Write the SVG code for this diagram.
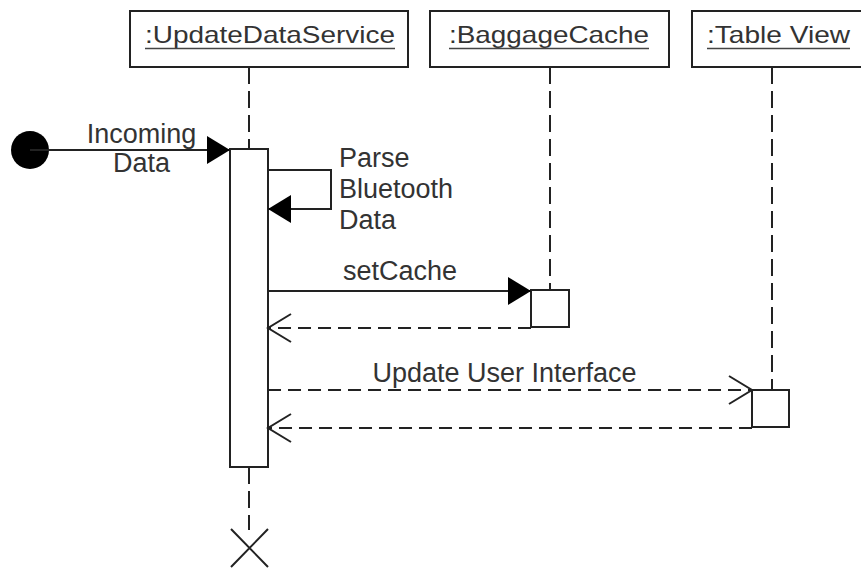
<svg xmlns="http://www.w3.org/2000/svg" width="861" height="571" viewBox="0 0 861 571">
<defs>
<style>
.box{fill:#fff;stroke:#222;stroke-width:2}
.life{stroke:#222;stroke-width:2;stroke-dasharray:17 7;fill:none}
.msg{stroke:#222;stroke-width:2;fill:none}
.ret{stroke:#222;stroke-width:2;fill:none;stroke-dasharray:13 7}
.hd{font-family:"Liberation Sans",Arial,sans-serif;font-size:24px;fill:#333;text-anchor:middle}
.ul{stroke:#444;stroke-width:1.6}
.lbl{font-family:"Liberation Sans",Arial,sans-serif;font-size:27px;fill:#333}
</style>
<marker id="filled" markerUnits="userSpaceOnUse" markerWidth="24" markerHeight="30" refX="23" refY="14" orient="auto" viewBox="0 0 24 30">
<path d="M0,0 L23,14 L0,28 Z" fill="#000" stroke="none"/>
</marker>
<marker id="open" markerUnits="userSpaceOnUse" markerWidth="26" markerHeight="32" refX="24" refY="15" orient="auto" viewBox="0 0 26 32">
<path d="M1,1 L24,15 L1,29" fill="none" stroke="#222" stroke-width="2" stroke-dasharray="none"/>
</marker>
</defs>
<rect width="861" height="571" fill="#fff"/>

<g id="node-updatedataservice">
<line class="life" x1="249" y1="67" x2="249" y2="149"/>
<line class="life" x1="249" y1="467" x2="249" y2="530"/>
<rect class="box" x="130" y="11" width="278" height="56"/>
<text class="hd" x="270" y="43" textLength="250" lengthAdjust="spacingAndGlyphs">:UpdateDataService</text>
<line class="ul" x1="145" y1="48.5" x2="395" y2="48.5"/>
<rect class="box" x="230" y="149" width="38" height="318"/>
<path d="M231,529 L268,567 M268,529 L231,567" stroke="#222" stroke-width="2" fill="none"/>
</g>

<g id="node-baggagecache">
<line class="life" x1="550" y1="67" x2="550" y2="290"/>
<rect class="box" x="430" y="11" width="239" height="56"/>
<text class="hd" x="549" y="43" textLength="200" lengthAdjust="spacingAndGlyphs">:BaggageCache</text>
<line class="ul" x1="449" y1="48.5" x2="649" y2="48.5"/>
<rect class="box" x="531" y="290" width="38" height="37"/>
</g>

<g id="node-tableview">
<line class="life" x1="772" y1="67" x2="772" y2="390"/>
<rect class="box" x="692" y="11" width="180" height="56"/>
<text class="hd" x="778.5" y="43" textLength="143" lengthAdjust="spacingAndGlyphs">:Table View</text>
<line class="ul" x1="707" y1="48.5" x2="850" y2="48.5"/>
<rect class="box" x="752" y="390" width="37" height="37"/>
</g>

<g id="node-start">
<circle cx="30" cy="150" r="19" fill="#000"/>
</g>

<g id="connectors">
<line class="msg" x1="30" y1="150" x2="230" y2="150" marker-end="url(#filled)"/>
<text class="lbl" x="141.5" y="143" text-anchor="middle">Incoming</text>
<text class="lbl" x="141.5" y="172" text-anchor="middle">Data</text>

<polyline class="msg" points="268,170 331,170 331,209 268,209" marker-end="url(#filled)"/>
<text class="lbl" x="339" y="167">Parse</text>
<text class="lbl" x="339" y="198">Bluetooth</text>
<text class="lbl" x="339" y="229">Data</text>

<line class="msg" x1="268" y1="291" x2="531" y2="291" marker-end="url(#filled)"/>
<text class="lbl" x="400" y="280" text-anchor="middle">setCache</text>

<line class="ret" x1="531" y1="328" x2="268" y2="328" marker-end="url(#open)"/>

<line class="ret" x1="268" y1="390" x2="752" y2="390" marker-end="url(#open)"/>
<text class="lbl" x="504.5" y="382" text-anchor="middle">Update User Interface</text>

<line class="ret" x1="752" y1="428" x2="268" y2="428" marker-end="url(#open)"/>
</g>
</svg>
